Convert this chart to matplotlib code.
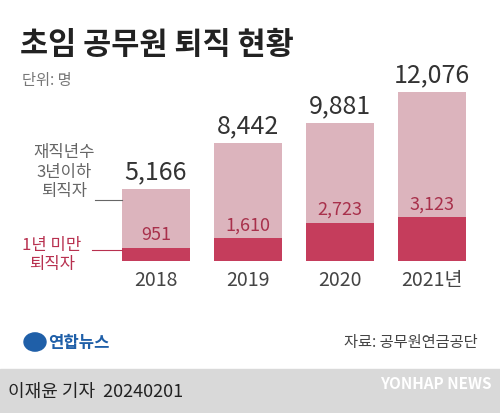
import matplotlib.pyplot as plt
from matplotlib.patches import Rectangle
plt.rcParams['font.family'] = ['Noto Sans CJK KR', 'DejaVu Sans']

years = ['2018', '2019', '2020', '2021년']
total = [5166, 8442, 9881, 12076]
under1 = [951, 1610, 2723, 3123]

W, H = 500, 414
fig = plt.figure(figsize=(5, 4.14), dpi=100)
fig.patch.set_facecolor('white')

def fx(x): return x / W
def fy(y): return 1 - y / H

ax = fig.add_axes([fx(110), fy(262), fx(368), (262 - 93) / H])
ax.set_xlim(-0.5, 3.5)
ax.set_ylim(0, 12076)
ax.axis('off')
x = range(4)
light, dark = '#dcb4bd', '#c53d5c'
ax.bar(x, total, width=0.74, color=light)
ax.bar(x, under1, width=0.74, color=dark)
for i in x:
    ax.text(i, total[i] + 350, f'{total[i]:,}', ha='center', va='bottom', fontsize=18, fontweight='medium', color='#333333')
    ax.text(i, under1[i] + 350, f'{under1[i]:,}', ha='center', va='bottom', fontsize=13, fontweight='medium', color='#a8304b')
    ax.text(i, -600, years[i], ha='center', va='top', fontsize=14, color='#444444')

fig.text(fx(20), fy(45), '초임 공무원 퇴직 현황', fontsize=22, fontweight='bold', color='#222222', va='center')
fig.text(fx(22), fy(80), '단위: 명', fontsize=11, color='#777777', va='center')
fig.text(fx(64), fy(172), '재직년수\n3년이하\n퇴직자', fontsize=12, color='#666666', ha='center', va='center', linespacing=1.2)
fig.text(fx(52), fy(255), '1년 미만\n퇴직자', fontsize=12, color='#b8304f', ha='center', va='center', linespacing=1.2)
fig.add_artist(plt.Line2D([fx(95), fx(122)], [fy(201), fy(201)], color='#666666', lw=0.8))
fig.add_artist(plt.Line2D([fx(92), fx(122)], [fy(251), fy(251)], color='#b8304f', lw=0.8))

fig.text(fx(48), fy(343), '연합뉴스', fontsize=12, fontweight='bold', color='#1f5fa8', va='center')
fig.add_artist(plt.Circle((fx(35), fy(343)), 0.022, color='#1f5fa8', transform=fig.transFigure))
fig.text(fx(478), fy(343), '자료: 공무원연금공단', fontsize=11, color='#444444', ha='right', va='center')
fig.add_artist(Rectangle((0, 0), 1, 44 / H, color='#d9d9d9', transform=fig.transFigure, zorder=-1))
fig.text(fx(8), fy(392), '이재윤 기자  20240201', fontsize=13, color='#222222', va='center')
fig.text(fx(492), fy(384), 'YONHAP NEWS', fontsize=11, fontweight='bold', color='white', ha='right', va='center')
fig.savefig('out.png', dpi=100)
